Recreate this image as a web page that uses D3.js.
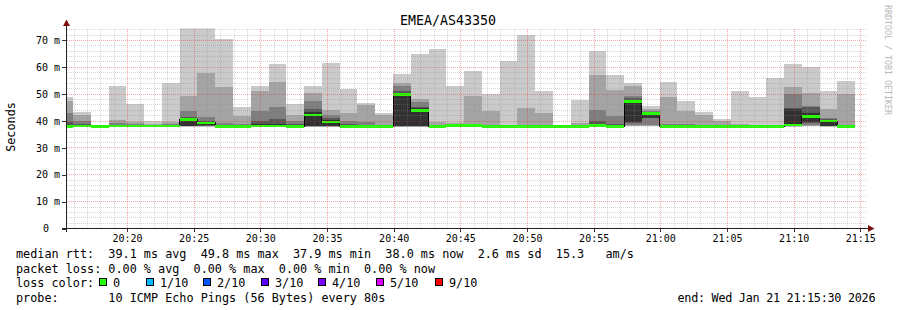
<!DOCTYPE html>
<html>
<head>
<meta charset="utf-8">
<title>EMEA/AS43350</title>
<script src="https://cdn.jsdelivr.net/npm/d3@7"></script>
<style>
body { margin: 0; background: #fff; }
svg text { font-family: "DejaVu Sans Mono", monospace; fill: #000; }
text.pre { white-space: pre; }
</style>
</head>
<body>
<svg id="chart" width="897" height="310"></svg>
<script>

// window and 80 s steps
var viewStart = "20:15:30", viewEnd = "21:15:30";
var firstStep = "20:14:37";
var stepSec = 80;
var yTop = 74.46;

// sorted pings per step (ms), ping10 = slowest
var ping10 = [49.1,43.3,38.6,53.2,46.2,40.2,54.0,76.5,75.8,70.4,45.4,52.9,61.1,46.2,53.2,61.5,52.0,46.9,42.9,57.4,65.0,66.8,53.2,58.6,49.9,62.5,71.9,51.1,38.7,47.9,66.0,57.0,54.2,45.5,54.7,47.4,43.3,40.8,51.1,48.9,56.0,61.3,60.1,51.1,55.1];
var ping9  = [47.3,42.1,38.3,40.5,39.6,39.0,39.5,49.5,57.8,52.6,41.7,51.1,54.4,42.4,50.6,44.2,42.9,45.8,42.1,54.3,48.3,39.6,39.2,49.5,43.7,38.6,44.9,42.9,38.3,39.2,57.0,51.4,53.0,44.6,49.1,43.9,42.4,40.2,39.0,38.7,38.6,52.6,50.4,44.6,49.9];
var ping8  = [42.9,40.2,38.2,39.2,38.8,38.6,38.8,43.7,41.4,39.2,38.8,43.7,45.4,40.2,47.3,42.1,39.9,39.6,38.6,53.0,47.0,38.5,38.7,39.0,38.6,38.3,38.6,38.5,38.1,38.5,44.2,41.7,49.3,43.7,38.8,38.8,38.7,38.6,38.5,38.4,38.3,49.9,45.6,41.2,38.6];
var ping7  = [39.5,38.8,38.1,38.6,38.4,38.3,38.4,41.4,40.2,38.6,38.4,40.0,40.7,38.8,44.6,41.0,38.8,38.6,38.3,51.2,45.2,38.2,38.5,38.7,38.3,38.1,38.3,38.2,38.0,38.2,40.0,39.0,48.6,43.4,38.4,38.4,38.3,38.3,38.2,38.2,38.1,44.8,45.4,40.8,38.3];
var ping6  = [38.6,38.4,38.0,38.3,38.2,38.2,38.2,41.0,39.8,38.3,38.2,38.8,39.0,38.4,43.2,40.3,38.4,38.3,38.1,50.5,44.7,38.0,38.4,38.5,38.1,38.0,38.1,38.1,37.9,38.0,39.0,38.5,48.0,43.1,38.2,38.2,38.1,38.1,38.1,38.1,38.0,44.6,43.0,40.5,38.1];
var ping5  = [38.1,38.1,37.9,38.1,38.0,38.0,38.1,38.2,38.5,38.1,38.0,38.2,38.2,38.1,38.3,38.3,38.1,38.0,38.0,38.3,38.3,37.9,38.2,38.2,38.0,37.9,38.0,37.9,37.9,37.9,38.4,38.1,39.6,41.2,38.0,38.0,38.0,38.0,38.0,38.0,37.9,38.4,39.6,38.3,37.9];
var ping4  = [38.0,38.0,37.9,38.0,38.0,38.0,38.0,38.1,38.2,38.0,38.0,38.0,38.0,38.0,38.1,38.1,38.0,38.0,37.9,38.1,38.1,37.9,38.1,38.1,37.9,37.9,37.9,37.9,37.9,37.9,38.2,38.0,39.4,41.0,37.9,37.9,37.9,37.9,37.9,37.9,37.9,38.2,39.4,38.2,37.9];
var ping3  = [38.0,38.0,37.9,38.0,37.9,37.9,38.0,38.0,38.1,38.0,37.9,38.0,38.0,38.0,38.0,38.0,37.9,37.9,37.9,38.0,38.0,37.9,38.0,38.0,37.9,37.9,37.9,37.9,37.9,37.9,38.1,37.9,38.6,38.6,37.9,37.9,37.9,37.9,37.9,37.9,37.9,38.1,38.6,38.1,37.9];
var ping2  = [37.9,37.9,37.9,37.9,37.9,37.9,37.9,38.0,38.0,37.9,37.9,37.9,37.9,37.9,37.9,37.9,37.9,37.9,37.9,37.9,37.9,37.9,37.9,37.9,37.9,37.9,37.9,37.9,37.9,37.9,38.0,37.9,38.2,38.3,37.9,37.9,37.9,37.9,37.9,37.9,37.9,38.0,38.2,38.0,37.9];
var ping1  = [37.9,37.9,37.9,37.9,37.9,37.9,37.9,37.9,37.9,37.9,37.9,37.9,37.9,37.9,37.9,37.9,37.9,37.9,37.9,37.9,37.9,37.9,37.9,37.9,37.9,37.9,37.9,37.9,37.9,37.9,38.0,37.9,38.0,38.0,37.9,37.9,37.9,37.9,37.9,37.9,37.9,37.9,38.0,37.9,37.9];
var median = [38.0,38.1,37.9,38.1,38.1,38.1,38.1,40.5,39.3,38.0,38.0,38.2,38.1,38.0,42.2,39.6,37.9,37.9,37.9,49.8,44.0,37.9,38.3,38.4,37.9,37.9,37.9,37.9,37.9,37.9,38.4,38.0,47.3,42.8,37.9,37.9,37.9,37.9,37.9,37.9,37.9,38.6,41.7,40.0,38.0];
var loss   = [0,0,0,0,0,0,0,0,0,0,0,0,0,0,0,0,0,0,0,0,0,0,0,0,0,0,0,0,0,0,0,0,0,0,0,0,0,0,0,0,0,0,0,0,0];

var lossLabels = ["0", "1/10", "2/10", "3/10", "4/10", "5/10", "9/10"];
var lossColors = ["#26ff00", "#00b8ff", "#0059ff", "#5e00ff", "#7e00ff", "#dd00ff", "#ff0000"];
var lossIndex  = [0, 1, 2, 3, 4, 5, 9];

var title = "EMEA/AS43350";
var statLines = [
	"median rtt:  39.1 ms avg  49.8 ms max  37.9 ms min  38.0 ms now  2.6 ms sd  15.3   am/s",
	"packet loss: 0.00 % avg  0.00 % max  0.00 % min  0.00 % now",
	"loss color:",
	"probe:       10 ICMP Echo Pings (56 Bytes) every 80s"
];
var endText = "end: Wed Jan 21 21:15:30 2026";

var X0 = 67, X1 = 867, Y0 = 228.5, Y1 = 28.5;
var svg = d3.select("#chart");
var parse = d3.utcParse("%H:%M:%S");

var x = d3.scaleUtc().domain([parse(viewStart), parse(viewEnd)]).range([X0, X1]);
var y = d3.scaleLinear().domain([0, yTop]).range([Y0, Y1]);

var steps = median.map(function (m, i) {
	var s = d3.utcSecond.offset(parse(firstStep), i * stepSec);
	return {i: i, start: s, end: d3.utcSecond.offset(s, stepSec)};
});

svg.append("clipPath").attr("id", "plotclip")
	.append("rect").attr("x", X0).attr("y", Y1).attr("width", X1 - X0).attr("height", Y0 - Y1);

var plot = svg.append("g").attr("clip-path", "url(#plotclip)");

// smoke: outer pair first, inner pairs on top
var pings = [ping1, ping2, ping3, ping4, ping5, ping6, ping7, ping8, ping9, ping10];
var greys = [202, 164, 126, 88, 50];
greys.forEach(function (g, k) {
	var lo = pings[k], hi = pings[9 - k];
	plot.selectAll("rect.smoke" + k)
		.data(steps)
		.enter().append("rect")
			.attr("class", "smoke" + k)
			.attr("x", function (d) { return x(d.start); })
			.attr("width", function (d) { return x(d.end) - x(d.start); })
			.attr("y", function (d) { return y(hi[d.i]); })
			.attr("height", function (d) { return y(lo[d.i]) - y(hi[d.i]); })
			.attr("fill", d3.rgb(g, g, g))
			.attr("shape-rendering", "crispEdges");
});

// grid on top of smoke
var grid = svg.append("g").attr("shape-rendering", "crispEdges").attr("stroke-dasharray", "1,1");
var minorX = x.ticks(d3.utcMinute.every(1)).filter(function (d) { return d.getUTCMinutes() % 5 != 0; });
var majorX = x.ticks(d3.utcMinute.every(5));
var minorY = y.ticks(40).filter(function (v) { return v % 10 != 0; });
var majorY = y.ticks(8).filter(function (v) { return v > 0; });

grid.selectAll("line.mx").data(minorX).enter().append("line")
	.attr("x1", function (d) { return Math.round(x(d)) + 0.5; })
	.attr("x2", function (d) { return Math.round(x(d)) + 0.5; })
	.attr("y1", Y1).attr("y2", Y0)
	.attr("stroke", "rgba(140,140,140,0.35)");
grid.selectAll("line.my").data(minorY).enter().append("line")
	.attr("y1", function (d) { return Math.round(y(d) - 0.5) + 0.5; })
	.attr("y2", function (d) { return Math.round(y(d) - 0.5) + 0.5; })
	.attr("x1", X0).attr("x2", X1)
	.attr("stroke", "rgba(140,140,140,0.35)");
grid.selectAll("line.Mx").data(majorX).enter().append("line")
	.attr("x1", function (d) { return Math.round(x(d)) + 0.5; })
	.attr("x2", function (d) { return Math.round(x(d)) + 0.5; })
	.attr("y1", Y1).attr("y2", Y0)
	.attr("stroke", "rgba(230,40,40,0.4)");
grid.selectAll("line.My").data(majorY).enter().append("line")
	.attr("y1", function (d) { return Math.round(y(d) - 0.5) + 0.5; })
	.attr("y2", function (d) { return Math.round(y(d) - 0.5) + 0.5; })
	.attr("x1", X0).attr("x2", X1)
	.attr("stroke", "rgba(230,40,40,0.4)");

// median: thin black steps, then the loss coloured bar per step
var medPts = steps.map(function (d) { return [x(d.start), y(median[d.i])]; });
var last = steps[steps.length - 1];
medPts.push([x(last.end), y(median[last.i])]);
plot.append("path")
	.attr("d", d3.line().curve(d3.curveStepAfter)(medPts))
	.attr("fill", "none")
	.attr("stroke", "#000")
	.attr("stroke-width", 1)
	.attr("shape-rendering", "crispEdges");

plot.selectAll("rect.med")
	.data(steps)
	.enter().append("rect")
		.attr("class", "med")
		.attr("x", function (d) { return x(d.start); })
		.attr("width", function (d) { return x(d.end) - x(d.start); })
		.attr("y", function (d) { return y(median[d.i]) - 1.3; })
		.attr("height", 2.6)
		.attr("fill", function (d) { return lossColors[lossIndex.indexOf(loss[d.i])]; })
		.attr("shape-rendering", "crispEdges");

// axes
var xAxis = svg.append("g")
	.attr("transform", "translate(0," + Y0 + ")")
	.call(d3.axisBottom(x).ticks(d3.utcMinute.every(5)).tickFormat(d3.utcFormat("%H:%M")).tickSize(3).tickPadding(3.5));
xAxis.select(".domain").remove();
xAxis.selectAll("line").attr("stroke", "#333").attr("shape-rendering", "crispEdges");
xAxis.selectAll("text").attr("font-family", "DejaVu Sans Mono").attr("font-size", 10);

var yAxis = svg.append("g")
	.attr("transform", "translate(" + (X0 - 0.5) + ",0)")
	.call(d3.axisLeft(y).ticks(8).tickSize(5).tickPadding(1.5)
		.tickFormat(function (d) { return d == 0 ? "0" : d + " m"; }));
yAxis.select(".domain").remove();
yAxis.selectAll("line").attr("stroke", "#333").attr("shape-rendering", "crispEdges");
yAxis.selectAll("text").attr("font-family", "DejaVu Sans Mono").attr("font-size", 10)
	.attr("dx", function (d) { return d == 0 ? -11 : 0; });

svg.append("line").attr("x1", 62).attr("x2", 869).attr("y1", Y0).attr("y2", Y0)
	.attr("stroke", "#222").attr("shape-rendering", "crispEdges");
svg.append("line").attr("x1", X0 - 0.5).attr("x2", X0 - 0.5).attr("y1", Y0 + 3).attr("y2", 24)
	.attr("stroke", "#222").attr("shape-rendering", "crispEdges");
svg.append("path").attr("d", "M874.5,228.5L868,225L868,232Z").attr("fill", "#7f1010");
svg.append("path").attr("d", "M66.5,19.5L63,26L70,26Z").attr("fill", "#7f1010");

// texts
svg.append("text").attr("x", 448).attr("y", 24.5).attr("text-anchor", "middle")
	.attr("font-size", 13.3).text(title);

svg.append("text").attr("transform", "translate(15,127) rotate(-90)")
	.attr("text-anchor", "middle").attr("font-size", 11.8).text("Seconds");

svg.append("text").attr("transform", "translate(885,5) rotate(90)")
	.attr("font-size", 8.3).style("fill", "#b8b8b8").text("RRDTOOL / TOBI OETIKER");

var lineY = [258, 272.5, 287, 301.5];
svg.selectAll("text.stat").data(statLines).enter().append("text")
	.attr("class", "stat pre")
	.attr("x", 16)
	.attr("y", function (d, i) { return lineY[i]; })
	.attr("font-size", 11.8)
	.text(function (d) { return d; });

svg.append("text").attr("class", "pre").attr("x", 677.5).attr("y", lineY[3])
	.attr("font-size", 11.8).attr("textLength", 198).attr("lengthAdjust", "spacing")
	.text(endText);

var legendX = [99, 146, 203, 261, 318, 376, 435];
var leg = svg.selectAll("g.leg").data(lossLabels).enter().append("g").attr("class", "leg");
leg.append("rect")
	.attr("x", function (d, i) { return legendX[i] + 0.5; })
	.attr("y", 278.5).attr("width", 7).attr("height", 7)
	.attr("fill", function (d, i) { return lossColors[i]; })
	.attr("stroke", "#000").attr("stroke-width", 1);
leg.append("text")
	.attr("x", function (d, i) { return legendX[i] + 14; })
	.attr("y", lineY[2])
	.attr("font-size", 11.8)
	.text(function (d) { return d; });

</script>
</body>
</html>
